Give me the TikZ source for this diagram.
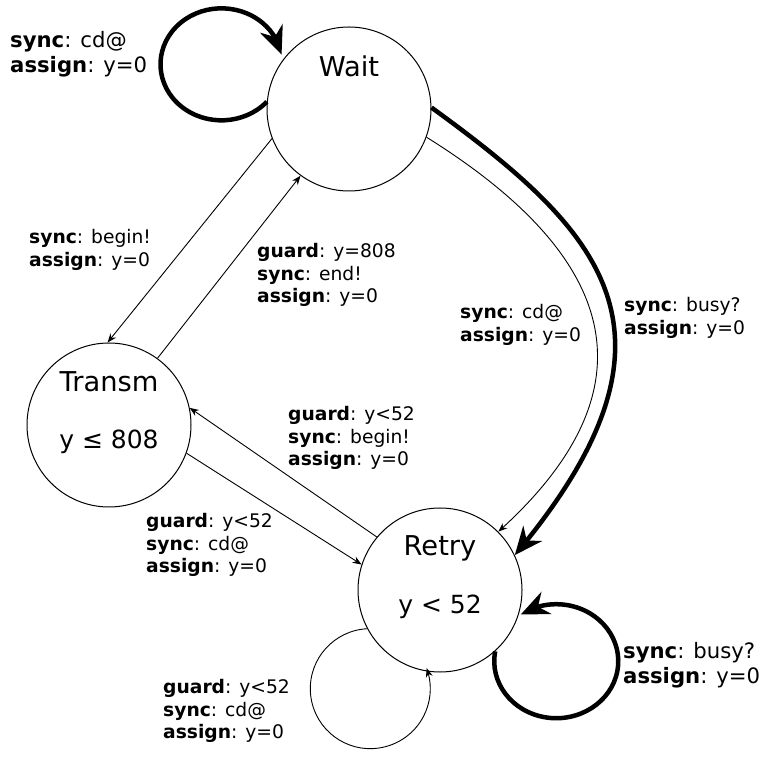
\documentclass[tikz,border=0pt]{standalone}
\usepackage{fontspec}
\setmainfont{DejaVu Sans}
\usetikzlibrary{arrows.meta, bending}

\tikzset{
  state/.style={circle, draw, line width=1pt, minimum size=164pt, inner sep=0pt},
  statename/.style={font=\fontsize{27.3}{32}\selectfont},
  invariant/.style={font=\fontsize{25}{30}\selectfont},
  trans/.style={line width=0.9pt, -{Stealth[length=9pt, width=7pt]}},
  heavy/.style={line width=4.5pt, -{Stealth[length=28pt, width=24pt, flex]}},
  edgelbl/.style={anchor=west, align=left, inner sep=0pt, font=\fontsize{18.7}{22.5}\selectfont},
  biglbl/.style={edgelbl, font=\fontsize{21.2}{25}\selectfont},
}

\begin{document}
\begin{tikzpicture}[x=1pt, y=1pt]
    \useasboundingbox (0,0) rectangle (760,758);

    \node[state, label={[statename, yshift=43pt]center:Wait}] (Wait) at (349,649) {};
    \node[state, label={[statename, yshift=43pt]center:Transm},
        label={[invariant, yshift=-17pt]center:y ≤ 808}] (Transm) at (109,333) {};
    \node[state, label={[statename, yshift=42pt]center:Retry},
        label={[invariant, yshift=-17pt]center:y < 52}] (Retry) at (440,168) {};

    \draw[trans] (Wait.201) -- (Transm.91);
    \draw[trans] (Transm.54) -- (Wait.234);
    \draw[trans] (Retry.140) -- (Transm.12);
    \draw[trans] (Transm.340) -- (Retry.162);
    \draw[trans] (Wait.-20) to[out=-32, in=42, out distance=180pt, in distance=250pt] (Retry.45);
    \draw[heavy] (Wait.1) to[out=-36, in=50, out distance=210pt, in distance=290pt] (Retry.25);

    \draw[heavy] (Wait.175) arc[start angle=-42, end angle=-350, x radius=61pt, y radius=56pt];
    \draw[heavy] (Retry.-48) arc[start angle=170, end angle=485, x radius=62pt, y radius=57pt];
    \draw[trans] (Retry.208) arc[start angle=93, end angle=380, radius=60pt];

    \node[biglbl] (lblWaitLoop) at (10,704) {\textbf{sync}: cd@\\\textbf{assign}: y=0};
    \node[edgelbl] (lblBegin) at (29,508) {\textbf{sync}: begin!\\\textbf{assign}: y=0};
    \node[edgelbl] (lblEnd) at (257,483) {\textbf{guard}: y=808\\\textbf{sync}: end!\\\textbf{assign}: y=0};
    \node[edgelbl] (lblWaitCd) at (460,433) {\textbf{sync}: cd@\\\textbf{assign}: y=0};
    \node[edgelbl] (lblWaitBusy) at (624,440) {\textbf{sync}: busy?\\\textbf{assign}: y=0};
    \node[edgelbl] (lblRetryBegin) at (288,320) {\textbf{guard}: y<52\\\textbf{sync}: begin!\\\textbf{assign}: y=0};
    \node[edgelbl] (lblTransmCd) at (146,213) {\textbf{guard}: y<52\\\textbf{sync}: cd@\\\textbf{assign}: y=0};
    \node[edgelbl] (lblRetryCd) at (163,47) {\textbf{guard}: y<52\\\textbf{sync}: cd@\\\textbf{assign}: y=0};
    \node[biglbl] (lblRetryBusy) at (623,93) {\textbf{sync}: busy?\\\textbf{assign}: y=0};
\end{tikzpicture}
\end{document}
